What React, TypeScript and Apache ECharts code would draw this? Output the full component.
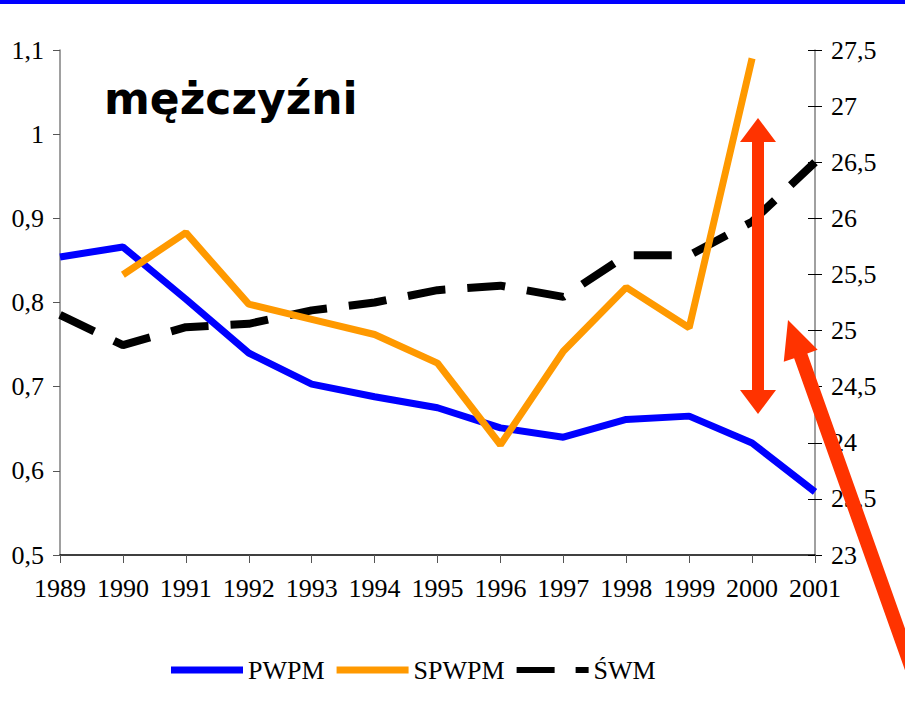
import React, { useEffect, useRef } from "react";
import * as echarts from "echarts";

const years = ["1989", "1990", "1991", "1992", "1993", "1994", "1995", "1996", "1997", "1998", "1999", "2000", "2001"];
const pwpm = [0.854, 0.866, 0.804, 0.74, 0.703, 0.688, 0.675, 0.651, 0.64, 0.661, 0.665, 0.633, 0.575];
const spwpm = [null, 0.833, 0.883, 0.798, 0.78, 0.762, 0.728, 0.631, 0.742, 0.818, 0.77, 1.09, null];
const swm = [25.14, 24.87, 25.03, 25.06, 25.18, 25.25, 25.36, 25.4, 25.3, 25.67, 25.67, 25.97, 26.5];
const seriesNames = ["PWPM", "SPWPM", "ŚWM"];
const titleText = "mężczyźni";

const RED = "#FF3300";
const FONT = "Liberation Serif";

function diagonalArrow(tip: number[], tail: number[], headLen: number, headHalf: number, shaftHalf: number) {
  const dx = tail[0] - tip[0];
  const dy = tail[1] - tip[1];
  const len = Math.hypot(dx, dy);
  const ux = dx / len, uy = dy / len;
  const px = uy, py = -ux;
  const bc = [tip[0] + ux * headLen, tip[1] + uy * headLen];
  return [
    tip,
    [bc[0] + px * headHalf, bc[1] + py * headHalf],
    [bc[0] + px * shaftHalf, bc[1] + py * shaftHalf],
    [tail[0] + px * shaftHalf, tail[1] + py * shaftHalf],
    [tail[0] - px * shaftHalf, tail[1] - py * shaftHalf],
    [bc[0] - px * shaftHalf, bc[1] - py * shaftHalf],
    [bc[0] - px * headHalf, bc[1] - py * headHalf],
  ];
}

function doubleArrow(cx: number, top: number, bottom: number, headLen: number, headHalf: number, shaftHalf: number) {
  return [
    [cx, top],
    [cx + headHalf, top + headLen],
    [cx + shaftHalf, top + headLen],
    [cx + shaftHalf, bottom - headLen],
    [cx + headHalf, bottom - headLen],
    [cx, bottom],
    [cx - headHalf, bottom - headLen],
    [cx - shaftHalf, bottom - headLen],
    [cx - shaftHalf, top + headLen],
    [cx - headHalf, top + headLen],
  ];
}

const fmt = (v: number) => String(+v.toFixed(1)).replace(".", ",");

export default function App() {
  const ref = useRef<HTMLDivElement>(null);
  useEffect(() => {
    if (!ref.current) return;
    const chart = echarts.init(ref.current, undefined, { renderer: "svg" });
    const axisLabel = { fontFamily: FONT, fontSize: 26, color: "#000" };
    chart.setOption({
      animation: false,
      backgroundColor: "#fff",
      grid: { left: 60, right: 90, top: 50, bottom: 159, containLabel: false },
      legend: {
        data: [
          { name: seriesNames[0], icon: "rect" },
          { name: seriesNames[1], icon: "rect" },
          { name: seriesNames[2], icon: "path://M0,0h38v6h-38z M59,0h13v6h-13z" },
        ],
        left: 166,
        top: 652,
        itemWidth: 72,
        itemHeight: 7,
        itemGap: 12,
        textStyle: { fontFamily: FONT, fontSize: 26, color: "#000" },
      },
      xAxis: {
        type: "category",
        data: years,
        boundaryGap: false,
        axisLine: { lineStyle: { color: "#000", width: 1.5 } },
        axisTick: { show: true, length: 8, lineStyle: { color: "#555" } },
        axisLabel: { ...axisLabel, margin: 20, interval: 0 },
        splitLine: { show: false },
      },
      yAxis: [
        {
          type: "value",
          min: 0.5,
          max: 1.1,
          interval: 0.1,
          position: "left",
          axisLine: { show: true, lineStyle: { color: "#808080", width: 1.5 } },
          axisTick: { show: true, length: 7, lineStyle: { color: "#555" } },
          axisLabel: { ...axisLabel, margin: 16, formatter: fmt },
          splitLine: { show: false },
        },
        {
          type: "value",
          min: 23,
          max: 27.5,
          interval: 0.5,
          position: "right",
          axisLine: { show: true, lineStyle: { color: "#808080", width: 1.5 } },
          axisTick: { show: true, length: 7, lineStyle: { color: "#000" } },
          axisLabel: { ...axisLabel, margin: 16, formatter: fmt },
          splitLine: { show: false },
        },
        {
          type: "value",
          min: 23,
          max: 27.5,
          interval: 0.5,
          position: "right",
          axisLine: { show: false },
          axisTick: { show: true, inside: true, length: 7, lineStyle: { color: "#000" } },
          axisLabel: { show: false },
          splitLine: { show: false },
        },
      ],
      series: [
        {
          name: seriesNames[0],
          type: "line",
          data: pwpm,
          yAxisIndex: 0,
          symbol: "none",
          lineStyle: { color: "#0000FF", width: 7 },
          itemStyle: { color: "#0000FF" },
        },
        {
          name: seriesNames[1],
          type: "line",
          data: spwpm,
          yAxisIndex: 0,
          symbol: "none",
          connectNulls: false,
          lineStyle: { color: "#FF9900", width: 7 },
          itemStyle: { color: "#FF9900" },
        },
        {
          name: seriesNames[2],
          type: "line",
          data: swm,
          yAxisIndex: 1,
          symbol: "none",
          z: 1,
          lineStyle: { color: "#000", width: 8, type: [38, 22] },
          itemStyle: { color: "#000" },
        },
      ],
      graphic: [
        { type: "rect", shape: { x: 0, y: 0, width: 905, height: 4 }, style: { fill: "#0000FF" } },
        {
          type: "text",
          left: 104,
          top: 76,
          style: {
            text: titleText,
            font: "bold 44px DejaVu Sans",
            fill: "#000",
          },
        },
        {
          type: "polygon",
          shape: { points: doubleArrow(758, 118, 414, 24, 18, 6) },
          style: { fill: RED },
          z: 100,
        },
        {
          type: "polygon",
          shape: { points: diagonalArrow([788, 320], [912, 669], 38, 18, 7) },
          style: { fill: RED },
          z: 100,
        },
      ],
    });
    return () => chart.dispose();
  }, []);
  return <div ref={ref} style={{ position: "absolute", left: 0, top: 0, width: 905, height: 714 }} />;
}
